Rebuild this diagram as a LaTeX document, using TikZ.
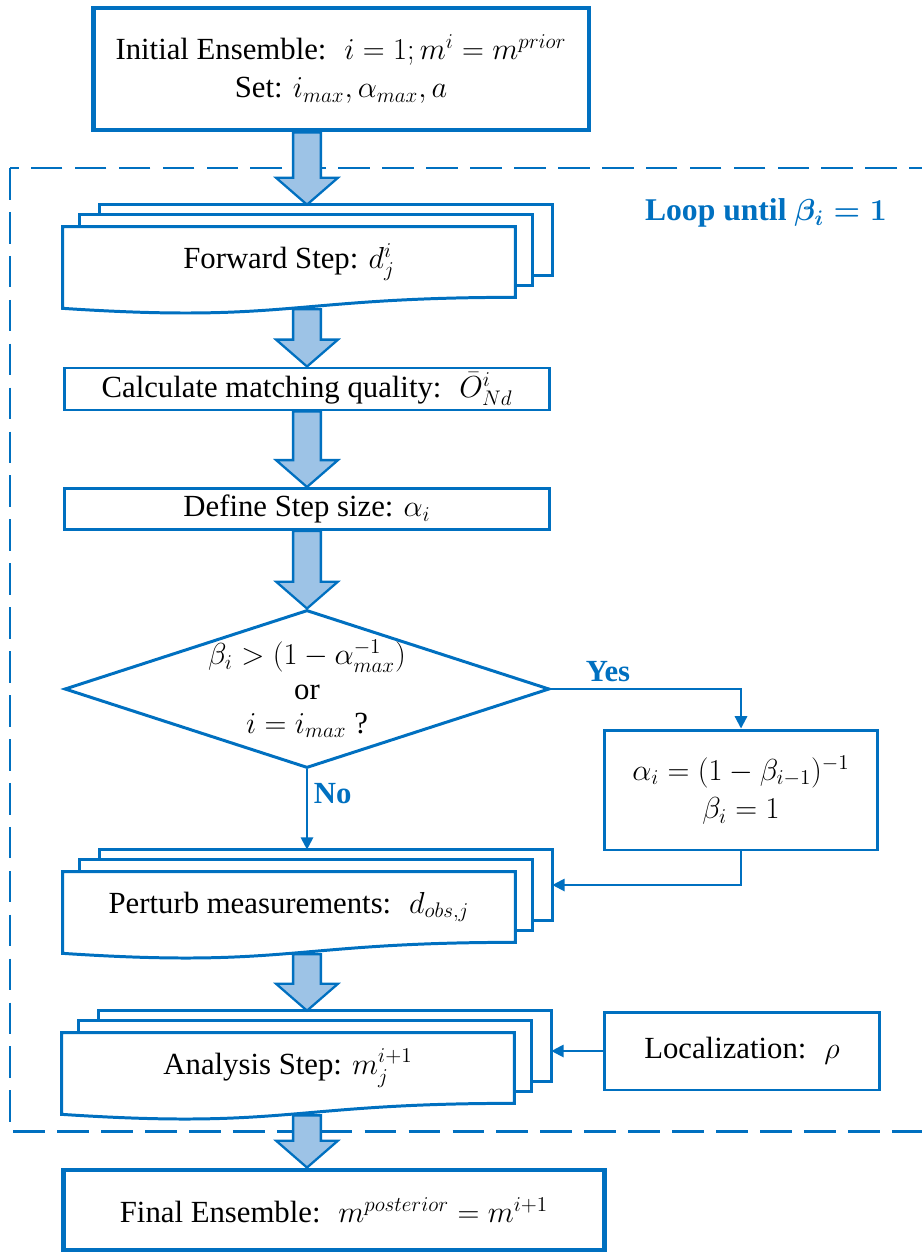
\documentclass[tikz,border=0pt]{standalone}
\usepackage{amsmath}
\usepackage{fontspec}
\setmainfont{Liberation Serif}
\usetikzlibrary{shapes.geometric,arrows.meta,calc,backgrounds}

\definecolor{flowblue}{HTML}{0070C0}
\definecolor{flowfill}{HTML}{9DC3E6}

\newcommand{\bodyfont}{\fontsize{17.5}{22}\selectfont}
\newcommand{\testfont}{\fontsize{17.5}{17.5}\selectfont}
\newcommand{\loopfont}{\fontsize{18}{22}\selectfont\bfseries}

\tikzset{
  box/.style={draw=flowblue, line width=1.7pt, fill=white, inner sep=2pt, align=center},
  thickbox/.style={box, line width=2.8pt},
  doc/.style={inner sep=2pt, align=center, minimum width=9.04cm, minimum height=1.4cm},
  page/.style={draw=flowblue, line width=1.7pt, fill=white},
  decision/.style={diamond, draw=flowblue, line width=1.7pt, fill=white, aspect=3, inner sep=-10pt, align=center, font=\testfont},
  conn/.style={draw=flowblue, line width=1.2pt, -{Triangle[length=7pt,width=7pt]}},
  fat/.style={draw=flowblue, line width=1.3pt, fill=flowfill, line join=miter},
  tag/.style={text=flowblue, font=\bodyfont\bfseries},
  looplabel/.style={text=flowblue, font=\loopfont},
  loopframe/.style={draw=flowblue, line width=1.7pt, dash pattern=on 18pt off 7pt},
}

% three stacked pages behind a doc node, front page with wavy bottom
\newcommand{\docstack}[1]{%
  \begin{scope}[on background layer]
    \draw[page] ([shift={(37,-22)}]#1.north west) rectangle ([shift={(37,-22)}]#1.south east);
    \draw[page] ([shift={(17,-12)}]#1.north west) rectangle ([shift={(17,-12)}]#1.south east);
    \draw[page] (#1.north west) -- (#1.north east) -- (#1.south east)
      .. controls (#1.south) and ($(#1.south)+(0,26)$) .. ($(#1.south west)+(0,11)$) -- cycle;
  \end{scope}
  \coordinate (#1-top) at ([shift={(37,-22)}]#1.north);
  \coordinate (#1-right) at ([shift={(37,-22)}]#1.east);
  \coordinate (#1-bot) at ($(#1.south)+(0,12)$);
}

% block arrow between two levels
\newcommand{\fatarrow}[2]{%
  \draw[fat] let \p1=(#1), \p2=(#2) in
    (\x1-7.9pt,\y1) -- (\x1-7.9pt,\y2+15.3pt) -- (\x1-17.6pt,\y2+15.3pt) -- (\x1,\y2)
    -- (\x1+17.6pt,\y2+15.3pt) -- (\x1+7.9pt,\y2+15.3pt) -- (\x1+7.9pt,\y1) -- cycle;
}

\begin{document}
\begin{tikzpicture}[x=0.02cm, y=-0.02cm, font=\bodyfont]
\useasboundingbox (0,0) rectangle (921,1253);

% loop frame
\draw[loopframe] (10,168) rectangle (940,1131);
\node[looplabel] (looptag) at (766,213) {Loop until $\boldsymbol{\beta_i = 1}$};

\node[thickbox, minimum width=9.92cm, minimum height=2.44cm] (init) at (341,69)
  {Initial Ensemble: \ $i = 1; m^i = m^{prior}$\\ Set: $i_{max}, \alpha_{max}, a$};

\node[doc] (fwd) at (289,262) {Forward Step: $d_j^i$};
\docstack{fwd}

\node[box, minimum width=9.72cm, minimum height=0.84cm] (calc) at (307,389)
  {Calculate matching quality: \ $\bar{O}^i_{Nd}$};
\node[box, minimum width=9.72cm, minimum height=0.82cm] (size) at (307,509)
  {Define Step size: $\alpha_i$};

\node[decision, minimum width=9.7cm, minimum height=3.16cm] (test) at (307,689)
  {$\beta_i > (1-\alpha_{max}^{-1})$\\[2pt] or\\[2pt] $i = i_{max}$ ?};

\node[box, minimum width=5.46cm, minimum height=2.4cm] (alpha) at (741,790)
  {$\alpha_i = (1-\beta_{i-1})^{-1}$\\ $\beta_i = 1$};

\node[doc] (pert) at (289,907) {Perturb measurements: \ $d_{obs,j}$};
\docstack{pert}

\node[doc] (ana) at (288,1068) {Analysis Step: $m_j^{i+1}$};
\docstack{ana}

\node[box, minimum width=5.5cm, minimum height=1.56cm] (loc) at (742,1051) {Localization: \ $\rho$};

\node[thickbox, minimum width=10.84cm, minimum height=1.6cm] (final) at (334,1210)
  {Final Ensemble: \ $m^{posterior} = m^{i+1}$};

% connectors
\draw[conn] (test.east) -| node[tag, pos=0.15, above] {Yes} (alpha.north);
\draw[conn] (test.south) -- node[tag, right, pos=0.3] {No} (test.south |- pert-top);
\draw[conn] (alpha.south) |- (pert-right);
\draw[conn] (loc.west) -- (loc.west -| ana-right);

\fatarrow{init.south -| test}{fwd-top}
\fatarrow{fwd-bot -| test}{calc.north -| test}
\fatarrow{calc.south -| test}{size.north -| test}
\fatarrow{size.south -| test}{test.north}
\fatarrow{pert-bot -| test}{ana-top -| test}
\fatarrow{ana-bot -| test}{final.north -| test}
\end{tikzpicture}
\end{document}
